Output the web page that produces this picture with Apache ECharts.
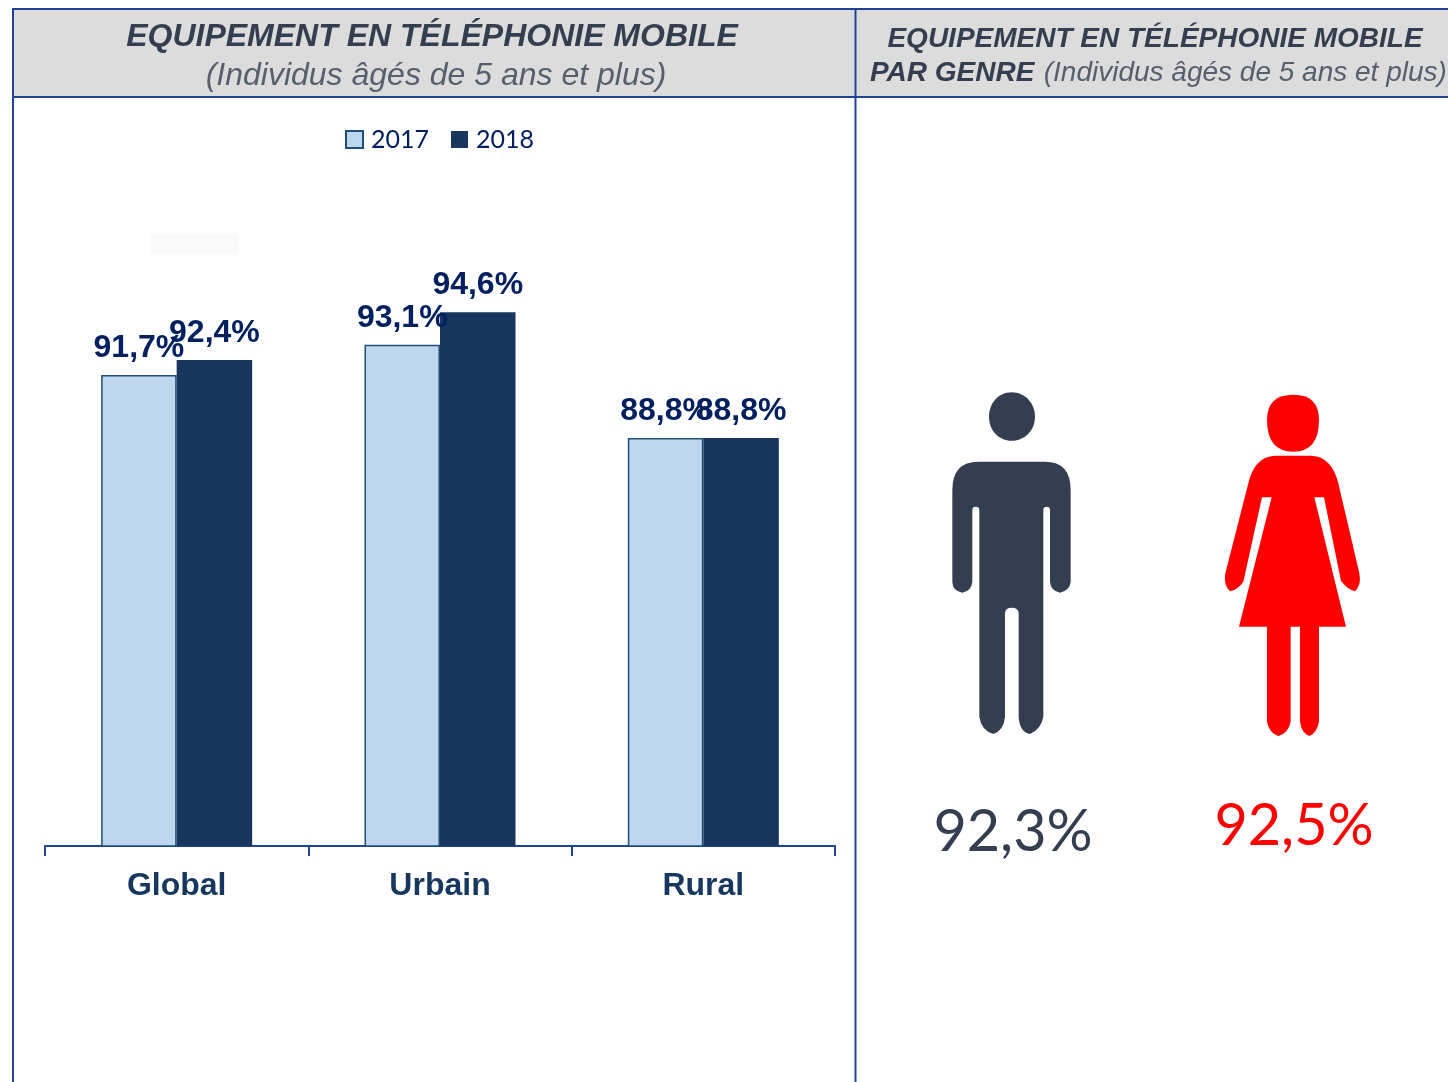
<!DOCTYPE html>
<html>
<head>
<meta charset="utf-8">
<title>Equipement en téléphonie mobile</title>
<script src="https://cdn.jsdelivr.net/npm/echarts@6/dist/echarts.min.js"></script>
<style>
    html, body { margin: 0; padding: 0; background: #fff; }
    #main { width: 1448px; height: 1082px; }
</style>
</head>
<body>
<div id="main"></div>
<script>
var categories = ['Global', 'Urbain', 'Rural'];
var years = ['2017', '2018'];
var values2017 = [91.7, 93.1, 88.8];
var values2018 = [92.4, 94.6, 88.8];
var genreLabels = ['92,3%', '92,5%'];

var lineColor = '#1f4496';
var headerFill = '#dcdcdc';
var headerText = '#333f50';
var manColor = '#333f50';
var womanColor = '#ff0000';

// pictos tracés sur un repère x3, d'où le scale
var manHead = 'M 275 37 C 315 37 345 70 345 110 C 345 150 315 182 275 182 C 235 182 207 150 207 110 C 207 70 235 37 275 37 Z';
var manBody = 'M 175 245 H 375 Q 452 245 452 330 V 605 Q 450 630 420 638 Q 392 632 390 605 V 390 Q 390 380 380 380 Q 370 380 370 390 V 1010 Q 365 1045 330 1062 Q 298 1055 296 1010 V 700 Q 296 683 275 683 Q 255 683 255 700 V 1010 Q 252 1050 220 1062 Q 183 1050 178 1010 V 390 Q 178 380 167 380 Q 157 380 157 390 V 605 Q 155 632 127 638 Q 97 632 97 605 V 330 Q 97 245 175 245 Z';
var womanHead = 'M 1120 44 Q 1197 44 1197 120 Q 1197 215 1120 215 Q 1041 215 1041 120 Q 1041 44 1120 44 Z';
var womanBody = 'M 1065 227 H 1175 Q 1235 230 1255 310 L 1318 580 Q 1325 615 1305 634 Q 1285 630 1263 603 L 1212 352 H 1183 L 1278 740 H 1197 V 1025 Q 1190 1060 1168 1068 Q 1145 1060 1140 1025 V 740 H 1112 V 1025 Q 1105 1060 1075 1068 Q 1048 1060 1041 1025 V 740 H 957 L 1055 352 H 1026 L 970 605 Q 955 628 930 634 Q 910 615 916 580 L 985 310 Q 1003 230 1065 227 Z';

// le composant graphic ne connait pas type:'path', il faut enregistrer les formes
echarts.graphic.registerShape('manHead', echarts.graphic.extendPath(manHead));
echarts.graphic.registerShape('manBody', echarts.graphic.extendPath(manBody));
echarts.graphic.registerShape('womanHead', echarts.graphic.extendPath(womanHead));
echarts.graphic.registerShape('womanBody', echarts.graphic.extendPath(womanBody));

function picto(shapeName, color) {
    return {
        type: shapeName,
        x: 920,
        y: 380,
        scaleX: 1 / 3,
        scaleY: 1 / 3,
        style: { fill: color }
    };
}

function line(x1, y1, x2, y2) {
    return {
        type: 'line',
        shape: { x1: x1, y1: y1, x2: x2, y2: y2 },
        style: { stroke: lineColor, lineWidth: 2 },
        z: 5
    };
}

function label(text, x, y, font, color, align) {
    return {
        type: 'text',
        x: x,
        y: y,
        style: {
            text: text,
            font: font,
            fill: color,
            align: align || 'center',
            verticalAlign: 'middle'
        },
        z: 6
    };
}

function percentLabel(p) {
    return p.value.toFixed(1).replace('.', ',') + '%';
}

var chart = echarts.init(document.getElementById('main'), null, { renderer: 'canvas' });

chart.setOption({
    animation: false,
    backgroundColor: '#fff',
    legend: {
        data: years,
        icon: 'rect',
        left: 340,
        top: 122,
        itemWidth: 17,
        itemHeight: 17,
        itemGap: 22,
        textStyle: {
            fontFamily: 'Lato',
            fontSize: 25,
            color: '#002060',
            padding: [0, 0, 0, 3]
        }
    },
    grid: { left: 45, right: 613, top: 195, bottom: 236 },
    xAxis: {
        type: 'category',
        data: categories,
        axisLine: { lineStyle: { color: lineColor, width: 2 } },
        axisTick: { show: true, alignWithLabel: false, length: 10, lineStyle: { color: lineColor, width: 2 } },
        axisLabel: {
            margin: 24,
            fontFamily: 'Liberation Sans',
            fontWeight: 'bold',
            fontSize: 32,
            color: '#17375e'
        }
    },
    yAxis: {
        type: 'value',
        min: 70,
        max: 100,
        show: false
    },
    series: [
        {
            name: '2017',
            type: 'bar',
            data: values2017,
            barWidth: 75.5,
            barGap: 0,
            itemStyle: { color: '#bdd7ee', borderColor: '#1f4e79', borderWidth: 1.5 },
            label: {
                show: true,
                position: 'top',
                distance: 11,
                formatter: percentLabel,
                fontFamily: 'Liberation Sans',
                fontWeight: 'bold',
                fontSize: 32,
                color: '#002060'
            }
        },
        {
            name: '2018',
            type: 'bar',
            data: values2018,
            barWidth: 75.5,
            itemStyle: { color: '#17375e' },
            label: {
                show: true,
                position: 'top',
                distance: 11,
                formatter: percentLabel,
                fontFamily: 'Liberation Sans',
                fontWeight: 'bold',
                fontSize: 32,
                color: '#002060'
            }
        }
    ],
    graphic: [
        { type: 'rect', shape: { x: 13, y: 10, width: 1435, height: 87 }, style: { fill: headerFill }, z: 1 },
        { type: 'rect', shape: { x: 150, y: 233, width: 89, height: 22 }, style: { fill: '#fafafa' }, z: 1 },
        line(12, 9, 1448, 9),
        line(12, 97, 1448, 97),
        line(13, 9, 13, 1082),
        line(855.5, 9, 855.5, 1082),
        label('EQUIPEMENT EN TÉLÉPHONIE MOBILE', 432, 37, 'italic bold 32px "Liberation Sans"', headerText),
        label('(Individus âgés de 5 ans et plus)', 436, 76, 'italic 32px "Liberation Sans"', '#555f6e'),
        label('EQUIPEMENT EN TÉLÉPHONIE MOBILE', 1155, 39, 'italic bold 28px "Liberation Sans"', headerText),
        {
            type: 'text',
            x: 870,
            y: 73,
            style: {
                rich: {
                    b: { font: 'italic bold 28px "Liberation Sans"', fill: headerText },
                    n: { font: 'italic 28px "Liberation Sans"', fill: '#555f6e', padding: [0, 0, 0, 6] }
                },
                text: '{b|PAR GENRE} {n|(Individus âgés de 5 ans et plus)}',
                align: 'left',
                verticalAlign: 'middle'
            },
            z: 6
        },
        picto('manHead', manColor),
        picto('manBody', manColor),
        picto('womanHead', womanColor),
        picto('womanBody', womanColor),
        label(genreLabels[0], 1013, 832, '57.5px Lato', manColor),
        label(genreLabels[1], 1294, 826, '57.5px Lato', womanColor)
    ]
});
</script>
</body>
</html>
